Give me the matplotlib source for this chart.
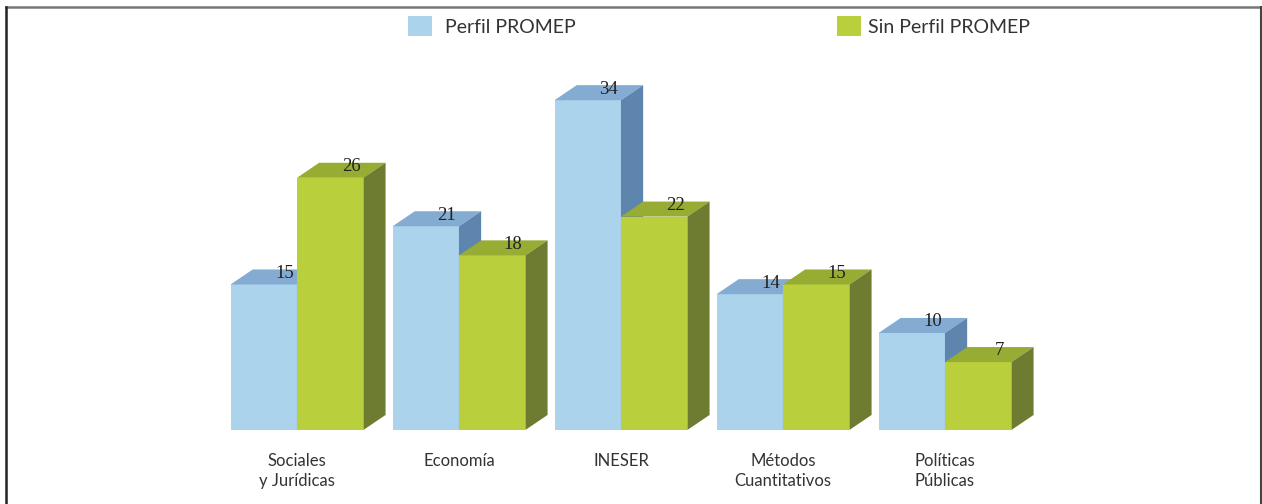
"""
3D-style grouped bar chart: Perfil PROMEP vs Sin Perfil PROMEP
"""

import matplotlib.pyplot as plt
from matplotlib.patches import Polygon, Rectangle
from matplotlib.lines import Line2D

# Data
categories = ['Sociales\ny Jurídicas', 'Economía', 'INESER',
              'Métodos\nCuantitativos', 'Políticas\nPúblicas']
perfil = [15, 21, 34, 14, 10]
sin_perfil = [26, 18, 22, 15, 7]
series_names = ['Perfil PROMEP', 'Sin Perfil PROMEP']

# Face colours (front, top, side)
BLUE = ('#acd3ec', '#84abd2', '#5e85ad')
GREEN = ('#b9cf3b', '#97ac33', '#6d7c31')

# Geometry in data units (one group = 1 unit, y in counts)
BAR_W = 0.41
DEPTH_X = 0.137
DEPTH_Y = 1.55


def draw_bar(ax, x0, h, colors):
    front, top, side = colors
    x1 = x0 + BAR_W
    ax.add_patch(Polygon([(x0, 0), (x1, 0), (x1, h), (x0, h)],
                         closed=True, facecolor=front, edgecolor='none'))
    ax.add_patch(Polygon([(x0, h), (x1, h), (x1 + DEPTH_X, h + DEPTH_Y),
                          (x0 + DEPTH_X, h + DEPTH_Y)],
                         closed=True, facecolor=top, edgecolor='none'))
    ax.add_patch(Polygon([(x1, 0), (x1 + DEPTH_X, DEPTH_Y),
                          (x1 + DEPTH_X, h + DEPTH_Y), (x1, h)],
                         closed=True, facecolor=side, edgecolor='none'))
    # value label near the top of the bar
    ax.annotate(f'{h}', xy=(x0 + BAR_W / 2 + 0.13, h), xytext=(0, 8),
                textcoords='offset points', ha='center', va='center',
                fontsize=13.5, family='Liberation Serif', color='#222222')


fig = plt.figure(figsize=(12.62, 5.04), dpi=100)
ax = fig.add_axes([0, 0, 1, 1])
ax.set_xlim(-1.833, 5.957)
ax.set_ylim(-7.63, 44.33)
ax.axis('off')

for i, (p, s) in enumerate(zip(perfil, sin_perfil)):
    draw_bar(ax, i - BAR_W, p, BLUE)
    draw_bar(ax, i, s, GREEN)
    ax.text(i, -2.4, categories[i], ha='center', va='top', fontsize=12,
            family='Lato', color='#333333', linespacing=1.25)

# Legend drawn by hand at the top
for (sq_x, txt_x), colors, name in zip([(0.3233, 0.3526), (0.6632, 0.6878)],
                                       [BLUE, GREEN], series_names):
    fig.patches.append(Rectangle((sq_x, 0.9286), 0.019, 0.0397,
                                 transform=fig.transFigure,
                                 facecolor=colors[0], edgecolor='none'))
    fig.text(txt_x, 0.946, name, ha='left', va='center', fontsize=14,
             family='Lato', color='#333333')

# Frame around the figure
fig.add_artist(Line2D([0.005, 1.0], [0.986, 0.986], transform=fig.transFigure,
                      color='#777777', linewidth=1.8))
fig.add_artist(Line2D([0.005, 0.005], [0.0, 0.986], transform=fig.transFigure,
                      color='#222222', linewidth=1.8))
fig.add_artist(Line2D([0.999, 0.999], [0.0, 0.986], transform=fig.transFigure,
                      color='#444444', linewidth=1.5))

plt.savefig('out.png', dpi=100, facecolor='white')
